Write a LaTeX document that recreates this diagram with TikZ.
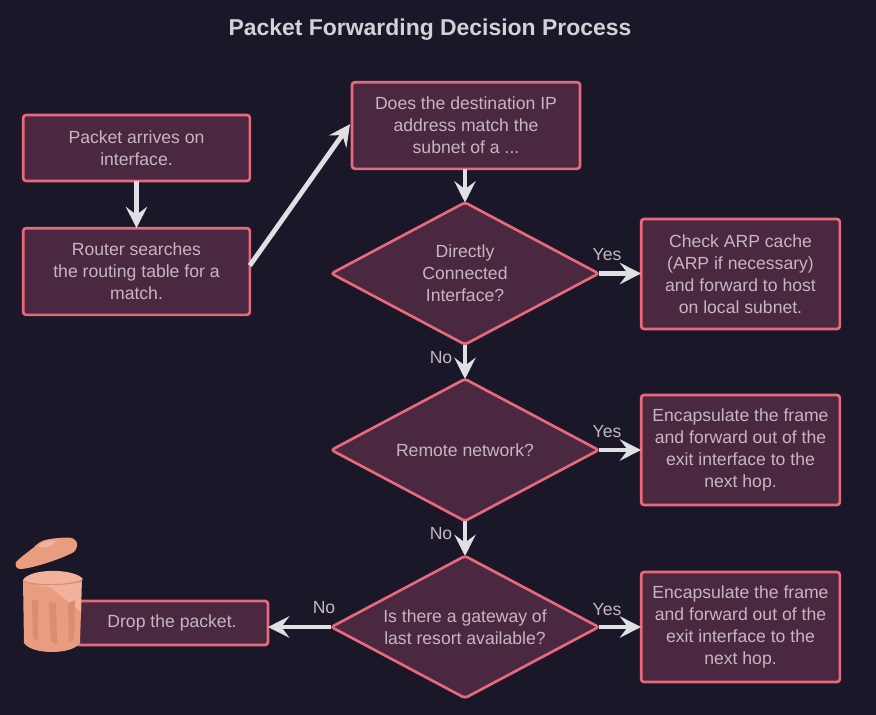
\documentclass[tikz,border=0pt]{standalone}
\usepackage{fontspec}
\setmainfont{Liberation Sans}
\usetikzlibrary{shapes.geometric,arrows.meta}
\definecolor{bgc}{HTML}{1A1728}
\definecolor{fillc}{HTML}{4A2840}
\definecolor{linec}{HTML}{E8697C}
\definecolor{txtc}{HTML}{C6B6C2}
\definecolor{arrc}{HTML}{E0E0E4}
\definecolor{titlec}{HTML}{D2D2D6}
\definecolor{binc}{HTML}{E89C80}
\definecolor{binl}{HTML}{F0B29A}
\definecolor{bind}{HTML}{DE8C70}
\tikzset{
  x=0.75pt,y=-0.75pt,
  every node/.style={font=\fontsize{13.2}{16.6}\selectfont,text=txtc},
  boxn/.style={draw=linec,fill=fillc,line width=2pt,rounded corners=2.2pt,inner sep=0pt,outer sep=0pt,align=center},
  diam/.style={diamond,draw=linec,fill=fillc,line width=2pt,rounded corners=2.2pt,inner sep=0pt,outer sep=0pt,align=center,
     minimum width=200.5pt,minimum height=106.5pt,aspect=1.887},
  arr/.style={draw=arrc,line width=3.6pt,-{Stealth[length=16pt,width=16pt,inset=6pt]}},
  lab/.style={inner sep=0pt},
}
\begin{document}
\begin{tikzpicture}
\useasboundingbox[fill=bgc] (0,0) rectangle (876,715);
\node[inner sep=0pt,font=\fontsize{17.2}{20}\selectfont\bfseries,text=titlec] (title) at (430,29.5) {Packet Forwarding Decision Process};

\node[boxn,minimum width=170pt,minimum height=49.5pt] (b1) at (136.5,148) {Packet arrives on\\interface.};
\node[boxn,minimum width=170pt,minimum height=65pt] (b2) at (136.5,271.5) {Router searches\\the routing table for a\\match.};
\node[boxn,minimum width=171pt,minimum height=65pt] (b3) at (466,125.5) {Does the destination IP\\address match the\\subnet of a ...};
\node[diam] (d1) at (465,273.5) {Directly\\Connected\\Interface?};
\node[diam] (d2) at (465,450) {Remote network?};
\node[diam] (d3) at (465,627) {Is there a gateway of\\last resort available?};
\node[boxn,minimum width=149pt,minimum height=82.5pt] (r1) at (740.5,274) {Check ARP cache\\(ARP if necessary)\\and forward to host\\on local subnet.};
\node[boxn,minimum width=149pt,minimum height=82.5pt] (r2) at (740.5,450) {Encapsulate the frame\\and forward out of the\\exit interface to the\\next hop.};
\node[boxn,minimum width=149pt,minimum height=82.5pt] (r3) at (740.5,627) {Encapsulate the frame\\and forward out of the\\exit interface to the\\next hop.};
\node[boxn,minimum width=144pt,minimum height=33pt] (drop) at (172,623) {Drop the packet.};

\draw[arr] (b1) -- (b2);
\draw[arr] ([yshift=4.5pt]b2.east) -- ([xshift=-1.5pt,yshift=1pt]b3.west);
\draw[arr] (b3.south -| d1.north) -- (d1.north);
\draw[arr] (d1) -- (d2);
\draw[arr] (d2) -- (d3);
\draw[arr] (d1.east) -- (r1.west |- d1.east);
\draw[arr] (d2.east) -- (r2.west |- d2.east);
\draw[arr] (d3.east) -- (r3.west |- d3.east);
\draw[arr] (d3.west) -- (drop.east |- d3.west);

\node[lab] (y1) at (607,255) {Yes};
\node[lab] (n1) at (441,358) {No};
\node[lab] (y2) at (607,432) {Yes};
\node[lab] (n2) at (441,534) {No};
\node[lab] (y3) at (607,610) {Yes};
\node[lab] (n3) at (324,608) {No};

% waste bin
\fill[binc] (23,580) -- (24,643) .. controls (32,655) and (72,655) .. (80,643) -- (82,580) -- cycle;
\fill[binl] (34,586) -- (50,587) -- (81,612) -- (81,583) -- cycle;
\fill[bind] (32,600) -- (38,600) -- (38,641) -- (33,638) -- cycle;
\fill[bind] (49,602) -- (56,603) -- (57,644) -- (51,642) -- cycle;
\fill[bind] (68,603) -- (75,600) -- (74,640) -- (69,642) -- cycle;
\fill[binl] (23,580) .. controls (30,568) and (74,568) .. (83,579) .. controls (74,587) and (30,587) .. (23,580) -- cycle;
\draw[bind,line width=0.8pt] (23,581) .. controls (34,586) and (70,586) .. (82,580);
\fill[binc] (16,562) .. controls (22,556) and (28,552) .. (33,548) .. controls (37,544) and (41,541) .. (45,540) .. controls (54,538) and (66,537) .. (72,538) .. controls (76,540) and (78,543) .. (77,546) .. controls (76,550) and (75,552) .. (70,554) .. controls (58,560) and (30,569) .. (20,569) .. controls (16,569) and (15,565) .. (16,562) -- cycle;
\fill[binl] (38,546) .. controls (44,541) and (50,539) .. (56,541) .. controls (53,546) and (46,549) .. (38,546) -- cycle;
\end{tikzpicture}
\end{document}
